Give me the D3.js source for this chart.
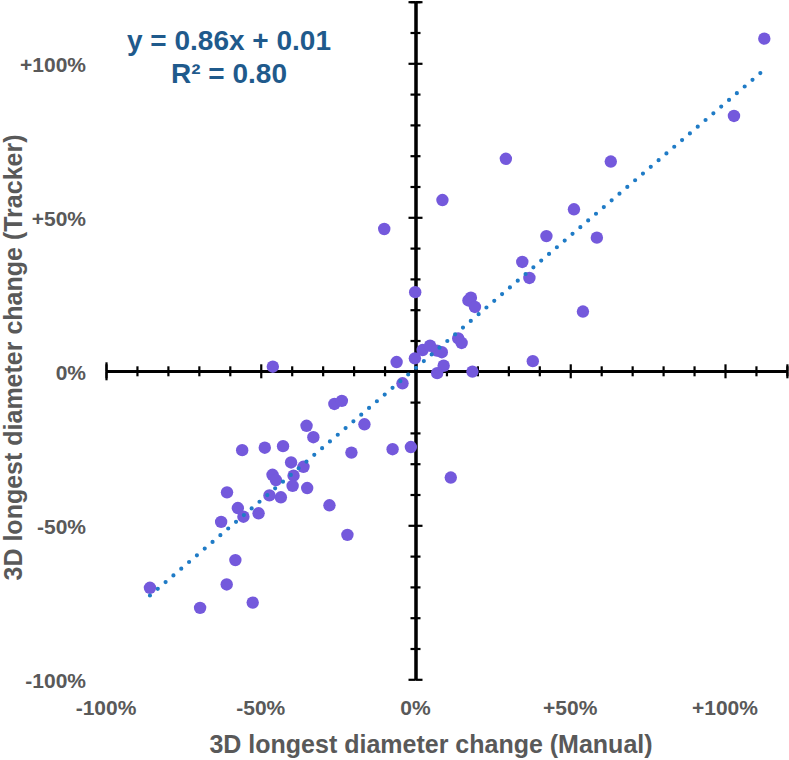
<!DOCTYPE html>
<html>
<head>
<meta charset="utf-8">
<script src="https://cdn.jsdelivr.net/npm/d3@7"></script>
<style>
  html, body { margin: 0; padding: 0; background: #fff; }
  svg { display: block; }
</style>
</head>
<body>
<svg id="chart" width="789" height="760"></svg>
<script>
// ---- data ----
const manualChange = [1.127, 1.029, 0.631, 0.292, 0.512, 0.087, 0.423, 0.586, 0.345, 0.368,
  0.179, 0.171, 0.192, -0.001, 0.541, 0.138, 0.149, 0.023, 0.047, 0.069, 0.085, -0.061,
  -0.002, 0.091, 0.070, 0.184, -0.042, 0.379, -0.015, 0.114, -0.461, -0.262, -0.238,
  -0.352, -0.330, -0.165, -0.560, -0.487, -0.428, -0.207, -0.074, -0.402, -0.362, -0.462,
  -0.451, -0.394, -0.397, -0.350, -0.609, -0.472, -0.435, -0.278, -0.574, -0.507, -0.556,
  -0.628, -0.220, -0.582, -0.610, -0.858, -0.696, -0.526, -0.101];
const trackerChange = [1.080, 0.829, 0.681, 0.690, 0.526, 0.556, 0.439, 0.434, 0.355, 0.303,
  0.239, 0.230, 0.209, 0.257, 0.194, 0.107, 0.092, 0.069, 0.083, 0.067, 0.062, 0.030,
  0.042, 0.018, -0.006, -0.001, -0.039, 0.033, -0.246, -0.345, 0.015, -0.106, -0.096,
  -0.177, -0.214, -0.172, -0.256, -0.248, -0.243, -0.264, -0.253, -0.296, -0.310, -0.336,
  -0.353, -0.339, -0.372, -0.379, -0.393, -0.403, -0.409, -0.435, -0.444, -0.461, -0.472,
  -0.489, -0.531, -0.613, -0.692, -0.703, -0.768, -0.751, 0.462];
const trendSlope = 0.86;
const trendIntercept = 0.01;
const equationLines = ["y = 0.86x + 0.01", "R\u00B2 = 0.80"];
const tickValues = [-1, -0.5, 0, 0.5, 1];
const tickLabels = ["-100%", "-50%", "0%", "+50%", "+100%"];
const xTitle = "3D longest diameter change (Manual)";
const yTitle = "3D longest diameter change (Tracker)";

// ---- layout ----
const svg = d3.select("#chart");
const font = "'Liberation Sans', Arial, sans-serif";
const grey = "#595959";
const x = d3.scaleLinear().domain([-1, 1.2]).range([106, 786.9]);
const y = d3.scaleLinear().domain([-1, 1.2]).range([679.3, 1.7]);

const minorTicks = d3.range(-10, 13).map(d => d / 10).filter(d => Math.abs(d * 2 - Math.round(d * 2)) > 1e-6);
const majorTicks = [-1, -0.5, 0.5, 1];

function styleAxis(g) {
  g.selectAll("path.domain").attr("stroke", "#000").attr("stroke-width", 2.6);
  g.selectAll(".tick line").attr("stroke", "#000").attr("stroke-width", 2.2);
  g.selectAll(".tick text").remove();
}

// x-axis (crosses at y=0)
const gx = svg.append("g").attr("transform", `translate(0,${y(0)})`);
[d3.axisBottom, d3.axisTop].forEach(ax => {
  gx.append("g").call(ax(x).tickValues(minorTicks).tickSize(5).tickSizeOuter(0).tickFormat("")).call(styleAxis);
  gx.append("g").call(ax(x).tickValues(majorTicks.concat([1.2])).tickSize(7).tickSizeOuter(0).tickFormat("")).call(styleAxis);
});
gx.append("g").call(d3.axisBottom(x).tickValues([-1]).tickSize(9).tickSizeOuter(0).tickFormat("")).call(styleAxis);
gx.append("g").call(d3.axisTop(x).tickValues([-1]).tickSize(9).tickSizeOuter(0).tickFormat("")).call(styleAxis);

// y-axis (crosses at x=0)
const gy = svg.append("g").attr("transform", `translate(${x(0)},0)`);
[d3.axisLeft, d3.axisRight].forEach(ax => {
  gy.append("g").call(ax(y).tickValues(minorTicks).tickSize(5).tickSizeOuter(0).tickFormat("")).call(styleAxis);
  gy.append("g").call(ax(y).tickValues(majorTicks.concat([1.2])).tickSize(7).tickSizeOuter(0).tickFormat("")).call(styleAxis);
});

// tick labels
svg.append("g").selectAll("text").data(tickValues).join("text")
  .attr("x", d => x(d)).attr("y", 714.5)
  .attr("text-anchor", "middle")
  .attr("font-family", font).attr("font-weight", "bold").attr("font-size", 21)
  .attr("fill", grey)
  .text((d, i) => tickLabels[i]);
svg.append("g").selectAll("text").data(tickValues).join("text")
  .attr("x", 86).attr("y", d => y(d) + 9)
  .attr("text-anchor", "end")
  .attr("font-family", font).attr("font-weight", "bold").attr("font-size", 21)
  .attr("fill", grey)
  .text((d, i) => tickLabels[i]);

// axis titles
svg.append("text").attr("x", 431).attr("y", 753)
  .attr("text-anchor", "middle")
  .attr("font-family", font).attr("font-weight", "bold").attr("font-size", 25)
  .attr("fill", grey).text(xTitle);
svg.append("text").attr("transform", "translate(22,357.5) rotate(-90)")
  .attr("text-anchor", "middle")
  .attr("font-family", font).attr("font-weight", "bold").attr("font-size", 25)
  .attr("fill", grey).text(yTitle);

// points
const pts = manualChange.map((d, i) => ({ x: d, y: trackerChange[i] }));
svg.append("g").selectAll("circle").data(pts).join("circle")
  .attr("cx", d => x(d.x)).attr("cy", d => y(d.y)).attr("r", 6.2)
  .attr("fill", "#7459DC");

// trendline (dotted)
const xMin = d3.min(manualChange), xMax = d3.max(manualChange);
const line = d3.line().x(d => x(d)).y(d => y(trendSlope * d + trendIntercept));
svg.append("path").datum([xMin, xMax])
  .attr("d", line)
  .attr("fill", "none")
  .attr("stroke", "#1F7BC6")
  .attr("stroke-width", 4.2)
  .attr("stroke-linecap", "round")
  .attr("stroke-dasharray", "0 10.3");

// equation
svg.append("g").selectAll("text").data(equationLines).join("text")
  .attr("x", 229).attr("y", (d, i) => 50 + i * 33)
  .attr("text-anchor", "middle")
  .attr("font-family", font).attr("font-weight", "bold").attr("font-size", 28)
  .attr("fill", "#1F5A8C")
  .text(d => d);
</script>
</body>
</html>
